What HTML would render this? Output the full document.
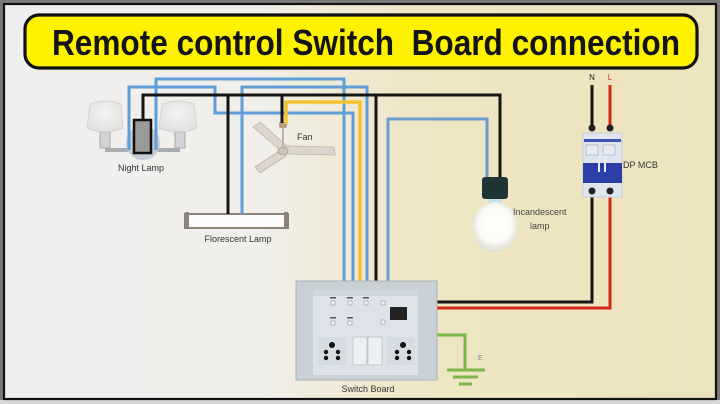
<!DOCTYPE html>
<html><head><meta charset="utf-8"><style>
html,body{margin:0;padding:0;background:#7a7a7a;}
svg{display:block;}
text{font-family:"Liberation Sans",sans-serif;}
</style></head><body>
<svg width="720" height="404" viewBox="0 0 720 404" xmlns="http://www.w3.org/2000/svg">
<defs>
<linearGradient id="bg" x1="0" y1="0" x2="1" y2="0">
<stop offset="0" stop-color="#efefef"/>
<stop offset="0.36" stop-color="#f0efeb"/>
<stop offset="0.5" stop-color="#f0e8cf"/>
<stop offset="0.62" stop-color="#eee5c3"/>
<stop offset="1" stop-color="#ede3bd"/>
</linearGradient>
<radialGradient id="bulb" cx="0.5" cy="0.45" r="0.55">
<stop offset="0" stop-color="#ffffff"/>
<stop offset="0.65" stop-color="#fbfbf5"/>
<stop offset="1" stop-color="#dcdcd0"/>
</radialGradient>
<radialGradient id="shade" cx="0.5" cy="0.4" r="0.6">
<stop offset="0" stop-color="#f6f6f6"/>
<stop offset="1" stop-color="#dcdcdc"/>
</radialGradient>
</defs>
<rect x="0" y="0" width="720" height="404" fill="#7a7a7a"/>
<rect x="0" y="400" width="720" height="4" fill="#d6d6d6"/>
<rect x="4" y="4" width="712" height="395" fill="url(#bg)" stroke="#111" stroke-width="2.2"/>

<!-- Title banner -->
<rect x="25" y="15" width="672" height="53" rx="14" ry="14" fill="#fff200" stroke="#111" stroke-width="3.2"/>
<text x="52" y="55" font-size="36" font-weight="bold" fill="#141414" textLength="628" lengthAdjust="spacingAndGlyphs" xml:space="preserve">Remote control Switch&#160; Board connection</text>

<!-- Night lamp -->
<g>
<line x1="105" y1="150" x2="180" y2="150" stroke="#a9acb0" stroke-width="4"/>
<rect x="100" y="132" width="10" height="16" fill="#d2d4d6" stroke="#a6aaae" stroke-width="1"/>
<rect x="175" y="132" width="10" height="16" fill="#d2d4d6" stroke="#a6aaae" stroke-width="1"/>
<path d="M90,104 Q105,98 121,104 L123,128 Q105,136 87,128 Z" fill="url(#shade)" stroke="#cccccc" stroke-width="1" opacity="0.75"/>
<path d="M162,104 Q178,98 194,104 L197,128 Q179,136 159,128 Z" fill="url(#shade)" stroke="#cccccc" stroke-width="1" opacity="0.75"/>
<circle cx="143" cy="143" r="17" fill="#c4cbd6"/>
<rect x="134" y="120" width="17" height="33" fill="#9a9a9a" stroke="#111" stroke-width="2.5"/>
</g>
<text x="141" y="171" font-size="9" fill="#333" text-anchor="middle">Night Lamp</text>

<!-- Florescent lamp -->
<rect x="185" y="214" width="103" height="14" fill="#fbfbfb" stroke="#8b8378" stroke-width="2"/>
<rect x="185" y="212" width="4" height="17" fill="#8b8378"/>
<rect x="284" y="212" width="4" height="17" fill="#8b8378"/>
<text x="238" y="242" font-size="9" fill="#333" text-anchor="middle">Florescent Lamp</text>

<!-- Fan -->
<g>
<path d="M280,150 L253,127 L260,122 L287,146 Z" fill="#ddd5cb" stroke="#bdb5aa" stroke-width="0.8"/>
<path d="M286,146 L334,147 L335,155 L285,154 Z" fill="#ddd5cb" stroke="#bdb5aa" stroke-width="0.8"/>
<path d="M281,150 L255,167 L260,173 L286,156 Z" fill="#ddd5cb" stroke="#bdb5aa" stroke-width="0.8"/>
<line x1="283" y1="127" x2="283" y2="148" stroke="#bdb5aa" stroke-width="2"/>
<ellipse cx="283" cy="151" rx="5" ry="3.5" fill="#cfc6ba" stroke="#a9a095" stroke-width="0.8"/>
<rect x="279" y="122" width="8" height="6" rx="2" fill="#b99a84"/>
</g>
<text x="297" y="140" font-size="9" fill="#333">Fan</text>

<!-- Wires -->
<g fill="none" stroke-linejoin="miter">
<polyline points="156,150 156,79 344,79 344,282" stroke="#5f9dd6" stroke-width="3"/>
<polyline points="129,150 129,87 215,87 215,113 353,113 353,282" stroke="#5f9dd6" stroke-width="3"/>
<polyline points="242,214 242,87 367,87 367,282" stroke="#5f9dd6" stroke-width="3"/>
<polyline points="143,120 143,95 500,95 500,178" stroke="#151515" stroke-width="3"/>
<line x1="228" y1="95" x2="228" y2="214" stroke="#151515" stroke-width="3"/>
<line x1="282" y1="95" x2="282" y2="123" stroke="#151515" stroke-width="3"/>
<line x1="376" y1="95" x2="376" y2="282" stroke="#151515" stroke-width="3"/>
<polyline points="286,124 286,102 360,102 360,282" stroke="#f4c430" stroke-width="3.5"/>
<polyline points="487,178 487,119 388,119 388,282" stroke="#6c9ccc" stroke-width="3"/>
<polyline points="592,191 592,302 437,302" stroke="#151515" stroke-width="3"/>
<polyline points="610,191 610,308 437,308" stroke="#d32a18" stroke-width="3"/>
<line x1="592" y1="85" x2="592" y2="128" stroke="#151515" stroke-width="3"/>
<line x1="610" y1="85" x2="610" y2="128" stroke="#d32a18" stroke-width="3"/>
<polyline points="437,335 465,335 465,370" stroke="#7ab648" stroke-width="3"/>
<line x1="447" y1="370" x2="485" y2="370" stroke="#7ab648" stroke-width="3"/>
<line x1="453" y1="377" x2="478" y2="377" stroke="#7ab648" stroke-width="3"/>
<line x1="459" y1="384" x2="472" y2="384" stroke="#7ab648" stroke-width="3"/>
</g>
<text x="478" y="360" font-size="7" fill="#888">E</text>

<!-- Incandescent lamp -->
<path d="M489,198 L501,198 L503,206 L487,206 Z" fill="#bfe0ea"/>
<ellipse cx="495" cy="227" rx="23" ry="25" fill="url(#bulb)"/>
<rect x="482" y="177" width="26" height="22" rx="3" fill="#1e3535"/>
<text x="513" y="215" font-size="9" fill="#444">Incandescent</text>
<text x="530" y="229" font-size="9" fill="#444">lamp</text>

<!-- MCB -->
<text x="592" y="80" font-size="8" fill="#222" text-anchor="middle">N</text>
<text x="610" y="80" font-size="8" fill="#c0392b" text-anchor="middle">L</text>
<rect x="583" y="133" width="39" height="64" fill="#dfe5ee" stroke="#c8ced8" stroke-width="1"/>
<rect x="584" y="139" width="37" height="3" fill="#3b55b5"/>
<rect x="586" y="145" width="12" height="10" fill="#e9edf3" stroke="#9aa6c0" stroke-width="0.6"/>
<rect x="603" y="145" width="12" height="10" fill="#e9edf3" stroke="#9aa6c0" stroke-width="0.6"/>
<rect x="583" y="163" width="39" height="20" fill="#2b3fa6"/>
<rect x="598" y="156" width="2" height="16" fill="#e8ecf4"/>
<rect x="604" y="156" width="2" height="16" fill="#e8ecf4"/>
<circle cx="592" cy="128" r="3.5" fill="#222"/>
<circle cx="610" cy="128" r="3.5" fill="#222"/>
<circle cx="592" cy="191" r="3.5" fill="#222"/>
<circle cx="610" cy="191" r="3.5" fill="#222"/>
<text x="623" y="168" font-size="9" fill="#333">DP MCB</text>

<!-- Switch board -->
<rect x="296" y="281" width="141" height="99" fill="#c9d0d6" stroke="#a9b1b8" stroke-width="1"/>
<rect x="313" y="290" width="105" height="85" fill="#dde3e8"/>
<rect x="313" y="290" width="105" height="6" fill="#cfd6dc"/>
<g fill="#555">
<rect x="330" y="297" width="6" height="1.5"/><rect x="347" y="297" width="6" height="1.5"/><rect x="363" y="297" width="6" height="1.5"/>
<rect x="330" y="317" width="6" height="1.5"/><rect x="347" y="317" width="6" height="1.5"/>
</g>
<g fill="#f1f3f5" stroke="#8f979e" stroke-width="0.6">
<rect x="331" y="301" width="4" height="4"/><rect x="348" y="301" width="4" height="4"/><rect x="364" y="301" width="4" height="4"/><rect x="381" y="301" width="4" height="4"/>
<rect x="331" y="321" width="4" height="4"/><rect x="348" y="321" width="4" height="4"/><rect x="381" y="320" width="4" height="4"/>
</g>
<rect x="390" y="307" width="17" height="13" fill="#222"/>
<rect x="318" y="337" width="28" height="28" fill="#d5dce2"/>
<rect x="387" y="337" width="28" height="28" fill="#d5dce2"/>
<rect x="353" y="337" width="14" height="28" fill="#edf0f2" stroke="#b9c0c6" stroke-width="0.8"/>
<rect x="368" y="337" width="14" height="28" fill="#edf0f2" stroke="#b9c0c6" stroke-width="0.8"/>
<g fill="#111">
<circle cx="332" cy="345" r="3"/><circle cx="326" cy="352" r="2.2"/><circle cx="338" cy="352" r="2.2"/><circle cx="326" cy="358" r="2.2"/><circle cx="338" cy="358" r="2.2"/>
<circle cx="403" cy="345" r="3"/><circle cx="397" cy="352" r="2.2"/><circle cx="409" cy="352" r="2.2"/><circle cx="397" cy="358" r="2.2"/><circle cx="409" cy="358" r="2.2"/>
</g>
<text x="368" y="392" font-size="9" fill="#333" text-anchor="middle">Switch Board</text>
</svg>
</body></html>
